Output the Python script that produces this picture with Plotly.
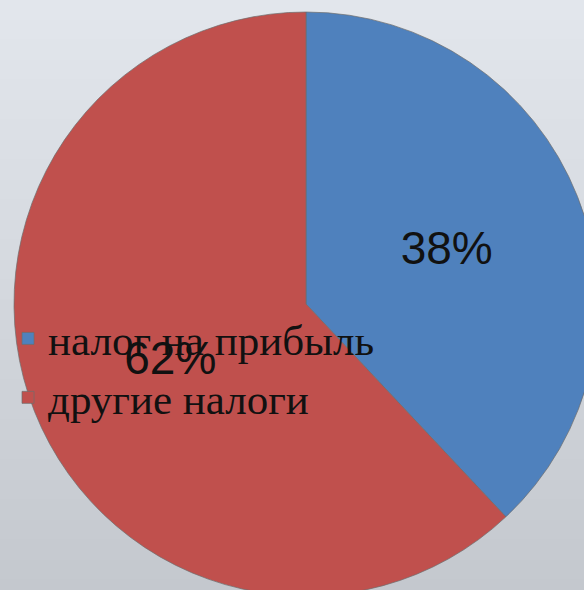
import plotly.graph_objects as go

labels = ["налог на прибыль", "другие налоги"]
values = [38, 62]
colors = ["#4F81BD", "#C0504D"]

W, H = 620, 600
cx, cy, r = 306, 304, 292  # pixel geometry of the pie (from top-left)

fig = go.Figure(
    go.Pie(
        labels=labels,
        values=values,
        sort=False,
        direction="clockwise",
        rotation=0,
        marker=dict(colors=colors, line=dict(color="rgba(110,110,110,0.7)", width=1)),
        textinfo="percent",
        texttemplate="%{percent:.0%}",
        textposition="inside",
        insidetextorientation="horizontal",
        textfont=dict(family="Liberation Sans, Arial, sans-serif", size=46, color="#111111"),
        hoverinfo="label+percent",
        domain=dict(
            x=[(cx - r) / W, (cx + r) / W],
            y=[(H - cy - r) / H, (H - cy + r) / H],
        ),
    )
)

# soft vertical background gradient
shapes = []
n = 30
top = (226, 230, 236)
bot = (196, 200, 206)
for i in range(n):
    t = i / (n - 1)
    c = tuple(round(top[k] + (bot[k] - top[k]) * t) for k in range(3))
    shapes.append(dict(
        type="rect", xref="paper", yref="paper",
        x0=0, x1=1, y0=1 - (i + 1) / n, y1=1 - i / n + 0.001,
        fillcolor="rgb(%d,%d,%d)" % c, line=dict(width=0), layer="below",
    ))

fig.update_layout(
    width=W, height=H,
    margin=dict(l=0, r=0, t=0, b=0),
    paper_bgcolor="#dde1e7",
    plot_bgcolor="rgba(0,0,0,0)",
    shapes=shapes,
    showlegend=True,
    legend=dict(
        x=8 / W, xanchor="left",
        y=(H - 304) / H, yanchor="top",
        bgcolor="rgba(0,0,0,0)",
        font=dict(family="Liberation Serif, Times New Roman, serif", size=43, color="#111111"),
        tracegroupgap=0,
    ),
)

fig.write_html(
    "out.html",
    config={"displayModeBar": False},
    post_script="document.body.style.margin='0';document.body.style.overflow='hidden';",
)
